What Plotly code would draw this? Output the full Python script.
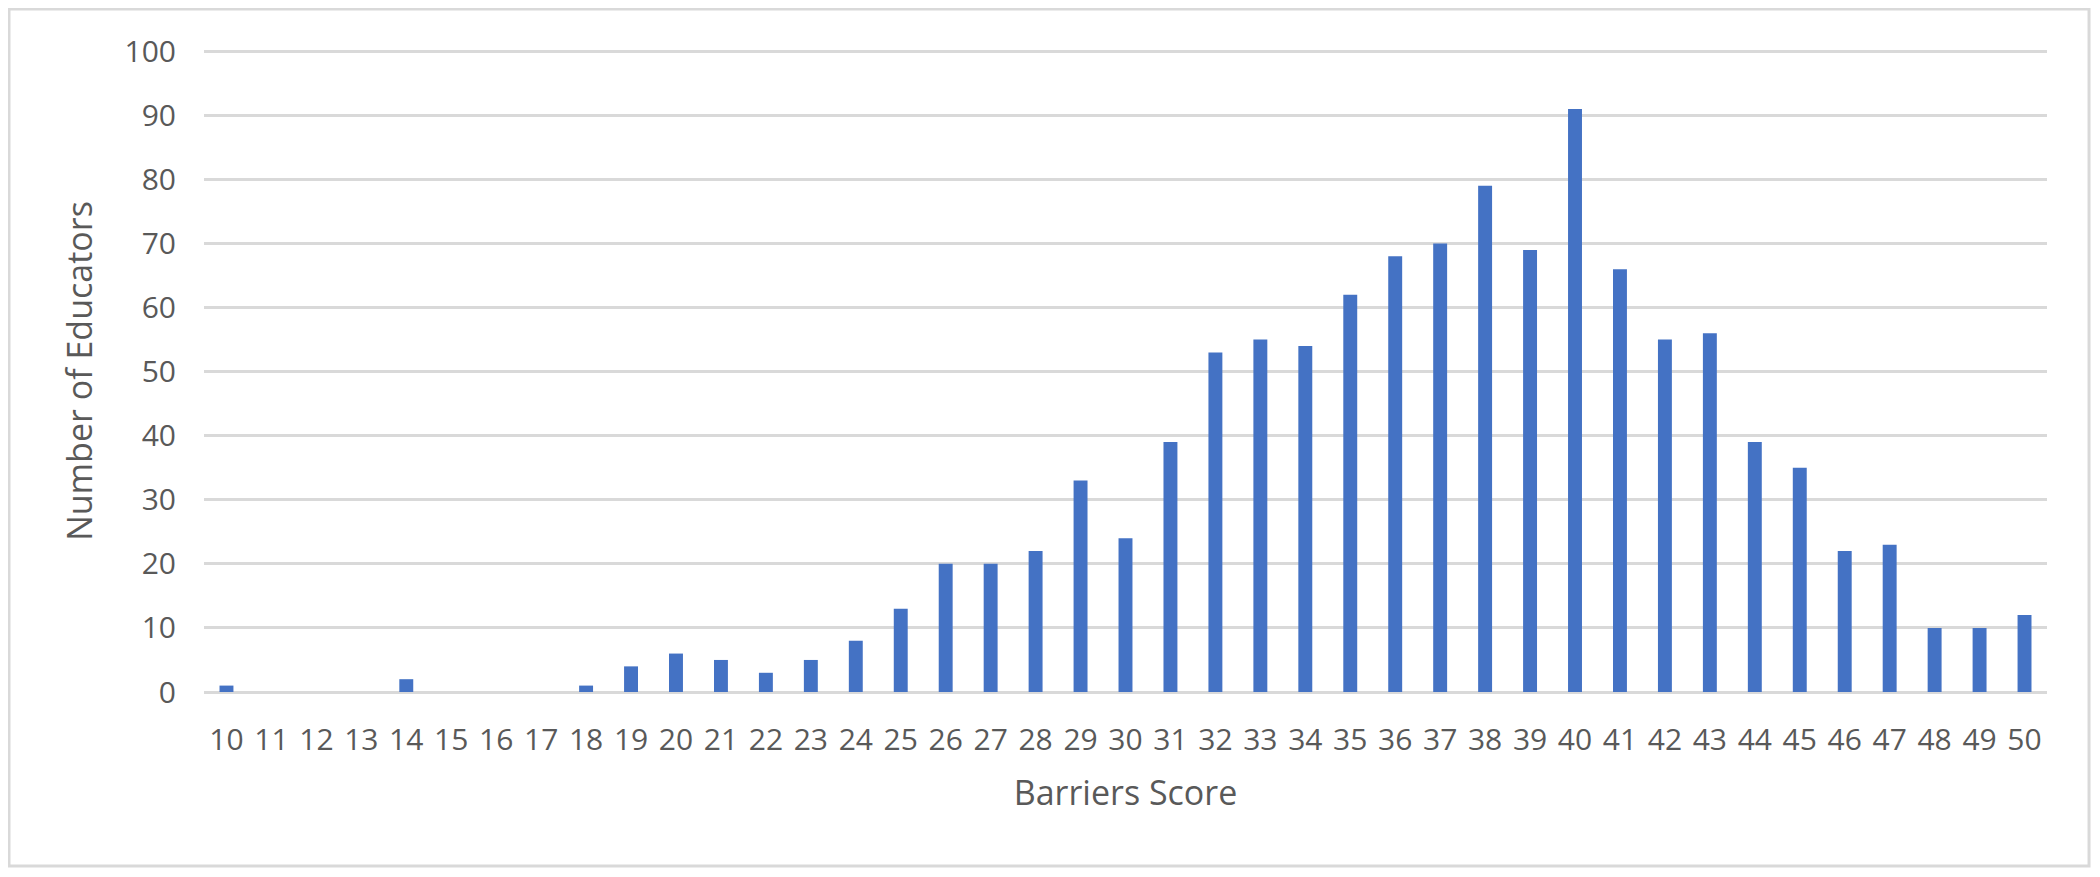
import plotly.graph_objects as go

scores = [str(s) for s in range(10, 51)]
educators = [1, 0, 0, 0, 2, 0, 0, 0, 1, 4,
             6, 5, 3, 5, 8, 13, 20, 20, 22, 33,
             24, 39, 53, 55, 54, 62, 68, 70, 79, 69,
             91, 66, 55, 56, 39, 35, 22, 23, 10, 10,
             12]
y_ticks = list(range(0, 101, 10))

GREY_TXT = "#595959"
GRID = "#d9d9d9"
FONT = "Open Sans"

fig = go.Figure(go.Bar(x=scores, y=educators, width=0.31,
                       marker=dict(color="#4472C4", line=dict(width=0))))

# page body adds an 8px offset, so the figure is sized to fit inside it
fig.update_layout(
    width=2084, height=861,
    margin=dict(l=196, r=45, t=42, b=177),
    paper_bgcolor="white", plot_bgcolor="white",
    font=dict(family=FONT, size=30, color=GREY_TXT),
    showlegend=False,
    shapes=[dict(type="rect", xref="paper", yref="paper",
                 x0=-0.1058, x1=1.0228, y0=-0.2710, y1=1.0639,
                 line=dict(color=GRID, width=3), fillcolor="rgba(0,0,0,0)",
                 layer="below")],
)
fig.update_xaxes(
    type="category", showgrid=False,
    showline=False, zeroline=False,
    tickfont=dict(size=30, color=GREY_TXT),
    ticks="outside", ticklen=21, tickcolor="rgba(0,0,0,0)",
    title=dict(text="Barriers Score", font=dict(size=34, color=GREY_TXT), standoff=23),
)
fig.update_yaxes(
    range=[0, 100.2], tickvals=y_ticks,
    showgrid=True, gridcolor=GRID, gridwidth=2.5,
    zeroline=True, zerolinecolor=GRID, zerolinewidth=2.5,
    showline=False,
    tickfont=dict(size=30, color=GREY_TXT),
    ticks="outside", ticklen=21, tickcolor="rgba(0,0,0,0)",
    title=dict(text="Number of Educators", font=dict(size=34, color=GREY_TXT), standoff=21),
)

fig.write_html("out.html")
